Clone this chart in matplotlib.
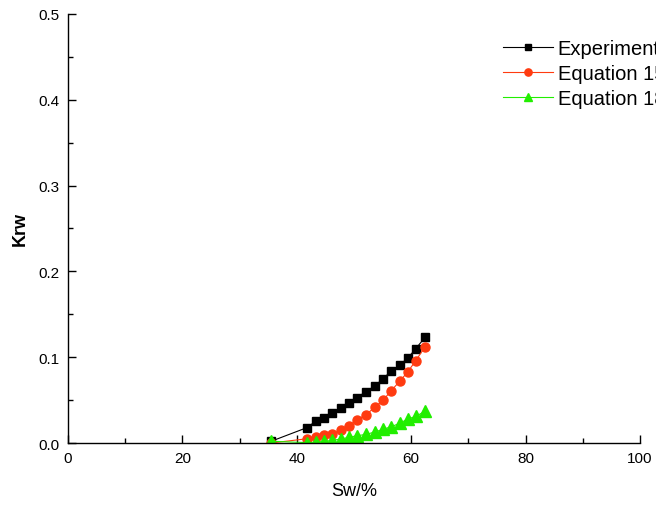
import matplotlib
matplotlib.use("Agg")
import matplotlib.pyplot as plt
from matplotlib.ticker import MultipleLocator, FormatStrFormatter

plt.rcParams['font.family'] = ['Liberation Sans', 'DejaVu Sans']

# water saturation, %
sw = [35.5, 41.8, 43.4, 44.8, 46.2, 47.7, 49.1, 50.5, 52.1, 53.7,
      55.1, 56.5, 58.0, 59.4, 60.8, 62.4]

# relative permeability to water
krw_exp = [0.002, 0.018, 0.026, 0.029, 0.035, 0.041, 0.047, 0.053, 0.060,
           0.067, 0.075, 0.084, 0.091, 0.099, 0.110, 0.123]
krw_eq15 = [0.0, 0.005, 0.007, 0.009, 0.011, 0.015, 0.020, 0.027, 0.033,
            0.042, 0.050, 0.061, 0.072, 0.083, 0.096, 0.112]
krw_eq18 = [0.002, 0.0005, 0.001, 0.002, 0.003, 0.0047, 0.0066, 0.0085,
            0.010, 0.013, 0.016, 0.019, 0.023, 0.028, 0.031, 0.037]

labels = ["Experiment", "Equation 15", "Equation 18"]

fig = plt.figure(figsize=(6.56, 5.06), dpi=100)
ax = fig.add_axes([0.1037, 0.1225, 0.8719, 0.8479])

ax.plot(sw, krw_exp, color='black', marker='s', markersize=6, lw=0.8,
        label=labels[0])
ax.plot(sw, krw_eq15, color='#ff3b10', marker='o', markersize=6.5, lw=0.8,
        label=labels[1])
ax.plot(sw, krw_eq18, color='#22ee00', marker='^', markersize=8, lw=0.8,
        label=labels[2])

ax.set_xlim(0, 100)
ax.set_ylim(0, 0.5)
ax.xaxis.set_major_locator(MultipleLocator(20))
ax.xaxis.set_minor_locator(MultipleLocator(10))
ax.yaxis.set_major_locator(MultipleLocator(0.1))
ax.yaxis.set_minor_locator(MultipleLocator(0.05))
ax.yaxis.set_major_formatter(FormatStrFormatter('%.1f'))

for side in ['top', 'right']:
    ax.spines[side].set_visible(False)
for side in ['left', 'bottom']:
    ax.spines[side].set_linewidth(1.0)

ax.tick_params(which='major', direction='in', length=6, width=1,
               labelsize=11, pad=6)
ax.tick_params(which='minor', direction='in', length=3.5, width=1)

ax.set_xlabel("Sw/%", fontsize=13, labelpad=12)
ax.set_ylabel("Krw", fontsize=13, labelpad=7, fontweight='bold')

fig.legend(loc='upper left', bbox_to_anchor=(0.767, 0.921), frameon=False,
           fontsize=14.5, handlelength=2.5, handletextpad=0.2,
           labelspacing=0.3, borderpad=0, borderaxespad=0, markerscale=0.8)

fig.savefig("out.png", dpi=100)
